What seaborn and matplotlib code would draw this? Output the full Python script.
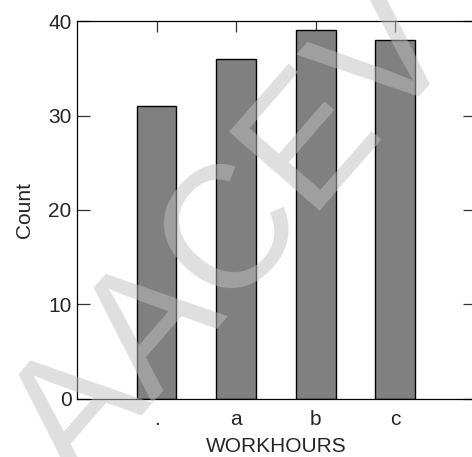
import matplotlib
matplotlib.use("Agg")
import matplotlib.pyplot as plt
import seaborn as sns
import pandas as pd

# data
categories = [".", "a", "b", "c"]
counts = [31, 36, 39, 38]
y_ticks = [0, 10, 20, 30, 40]

sns.set_style("ticks")
plt.rcParams['font.family'] = ['Liberation Sans', 'DejaVu Sans']

df = pd.DataFrame({"WORKHOURS": categories, "Count": counts})

fig = plt.figure(figsize=(4.72, 4.57), dpi=100)
ax = fig.add_axes([0.163, 0.127, 0.843, 0.827])

sns.barplot(data=df, x="WORKHOURS", y="Count", order=categories,
            color="#808080", saturation=1, width=0.5,
            edgecolor="black", linewidth=1.0, ax=ax)

ax.set_xlim(-1, 4)
ax.set_ylim(0, 40)
ax.set_yticks(y_ticks)

for side in ["left", "right", "top", "bottom"]:
    ax.spines[side].set_visible(True)
    ax.spines[side].set_color("black")
    ax.spines[side].set_linewidth(0.9)

ax.tick_params(axis="y", direction="in", length=9, width=0.9, color="#333333",
               left=True, right=True, labelsize=15, pad=4)
ax.tick_params(axis="x", direction="in", length=8, width=0.9, color="#333333",
               top=True, bottom=False, labelsize=15, pad=8)
ax.set_xlabel("WORKHOURS", fontsize=15, labelpad=6)
ax.set_ylabel("Count", fontsize=15, labelpad=10)

# faint diagonal watermark over the plot
fig.text(0.5, 0.48, "AACEV", fontsize=125, color="#c0c0c0", alpha=0.5,
         rotation=49, ha="center", va="center", zorder=10)

fig.savefig("out.png", dpi=100)
